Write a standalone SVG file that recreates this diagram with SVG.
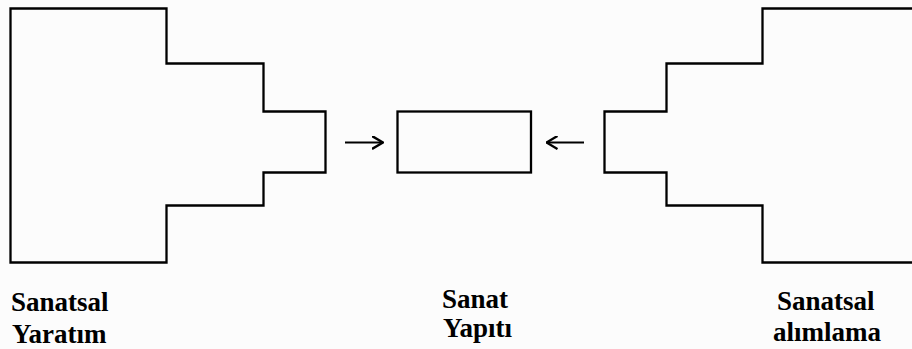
<svg xmlns="http://www.w3.org/2000/svg" width="912" height="349" viewBox="0 0 912 349">
<style>
.shape{fill:#fcfcfc;stroke:#000;stroke-width:2.3;stroke-linejoin:miter}
.conn{fill:none;stroke:#000;stroke-width:2.2}
</style>
<defs>
<marker id="ah" viewBox="0 0 12 14" refX="11" refY="7" markerWidth="12" markerHeight="14" markerUnits="userSpaceOnUse" orient="auto">
<path d="M0,0.5 L11,7 L0,13.5" fill="none" stroke="#000" stroke-width="2.4"/>
</marker>
</defs>
<rect width="912" height="349" fill="#fcfcfc"/>
<g id="creation">
<path class="shape" d="M10.5,8.5 H166.5 V63.5 H263.5 V111.5 H325.5 V172.5 H263.5 V205.5 H166.5 V262.5 H10.5 Z"/>
</g>
<g id="artwork">
<rect class="shape" x="397.5" y="111.5" width="133.5" height="61"/>
</g>
<g id="reception">
<path class="shape" d="M915,8.5 H762.5 V63.5 H666.5 V111.5 H604.5 V172.5 H666.5 V205.5 H762.5 V262.5 H915"/>
</g>
<g id="labels" font-family="'Liberation Serif', 'Times New Roman', serif" font-weight="bold" font-size="27" fill="#000">
<text x="11" y="311">Sanatsal</text>
<text x="12" y="343">Yaratım</text>
<text x="442" y="308">Sanat</text>
<text x="443" y="337">Yapıtı</text>
<text x="777" y="310">Sanatsal</text>
<text x="773" y="341">alımlama</text>
</g>
<g id="connectors">
<line class="conn" x1="345" y1="142.5" x2="383" y2="142.5" marker-end="url(#ah)"/>
<line class="conn" x1="584" y1="142.5" x2="546.5" y2="142.5" marker-end="url(#ah)"/>
</g>
</svg>
